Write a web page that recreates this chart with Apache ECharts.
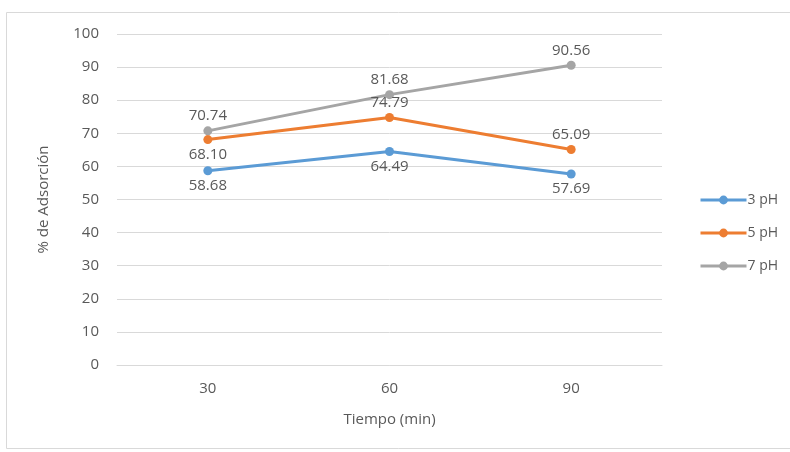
<!DOCTYPE html>
<html><head><meta charset="utf-8">
<script src="https://cdn.jsdelivr.net/npm/echarts@6/dist/echarts.min.js"></script>
<style>html,body{margin:0;padding:0;background:#fff}#c{width:790px;height:452px}</style>
</head><body><div id="c"></div>
<script>
const categories = ['30', '60', '90'];
const seriesNames = ['3 pH', '5 pH', '7 pH'];
const ph3 = [58.68, 64.49, 57.69];
const ph5 = [68.10, 74.79, 65.09];
const ph7 = [70.74, 81.68, 90.56];
const labelPos3 = ['bottom', 'bottom', 'bottom'];
const labelPos5 = ['bottom', 'top', 'top'];
const labelPos7 = ['top', 'top', 'top'];
const colors = ['#5B9BD5', '#ED7D31', '#A5A5A5'];

const font = 'Open Sans';
const txt = '#595959';
function mk(name, vals, pos, color) {
  return {
    name: name, type: 'line', data: vals.map((v, i) => ({value: v, label: {position: pos[i]}})),
    symbol: 'circle', symbolSize: 9,
    lineStyle: {width: 3, color: color}, itemStyle: {color: color},
    label: {show: true, formatter: p => p.value.toFixed(2), color: txt, fontFamily: font, fontSize: 15, distance: 3},
    z: 3
  };
}
const chart = echarts.init(document.getElementById('c'));
chart.setOption({
  animation: false,
  color: colors,
  graphic: [{type: 'rect', shape: {x: 6.5, y: 12.5, width: 790, height: 436}, style: {fill: 'none', stroke: '#d9d9d9', lineWidth: 1}, silent: true}],
  grid: {left: 117, right: 128, top: 34, bottom: 87, containLabel: false},
  legend: {
    orient: 'vertical', left: 694, top: 185, itemGap: 13, itemWidth: 46, itemHeight: 11,
    lineStyle: {width: 3},
    textStyle: {color: txt, fontFamily: font, fontSize: 14, padding: [0, 0, 0, -4], lineHeight: 20},
    data: seriesNames
  },
  xAxis: {
    type: 'category', data: categories, boundaryGap: true,
    axisLine: {lineStyle: {color: '#d9d9d9'}}, axisTick: {show: false},
    axisLabel: {color: txt, fontFamily: font, fontSize: 15, margin: 16},
    name: 'Tiempo (min)', nameLocation: 'middle', nameGap: 47,
    nameTextStyle: {color: txt, fontFamily: font, fontSize: 15}
  },
  yAxis: {
    type: 'value', min: 0, max: 100, interval: 10,
    axisLine: {show: false}, axisTick: {show: false},
    splitLine: {lineStyle: {color: '#d9d9d9', width: 1}},
    axisLabel: {color: txt, fontFamily: font, fontSize: 15, margin: 18},
    name: '% de Adsorción', nameLocation: 'middle', nameGap: 66,
    nameTextStyle: {color: txt, fontFamily: font, fontSize: 15}
  },
  series: [mk(seriesNames[0], ph3, labelPos3, colors[0]), mk(seriesNames[1], ph5, labelPos5, colors[1]), mk(seriesNames[2], ph7, labelPos7, colors[2])]
});
</script></body></html>
